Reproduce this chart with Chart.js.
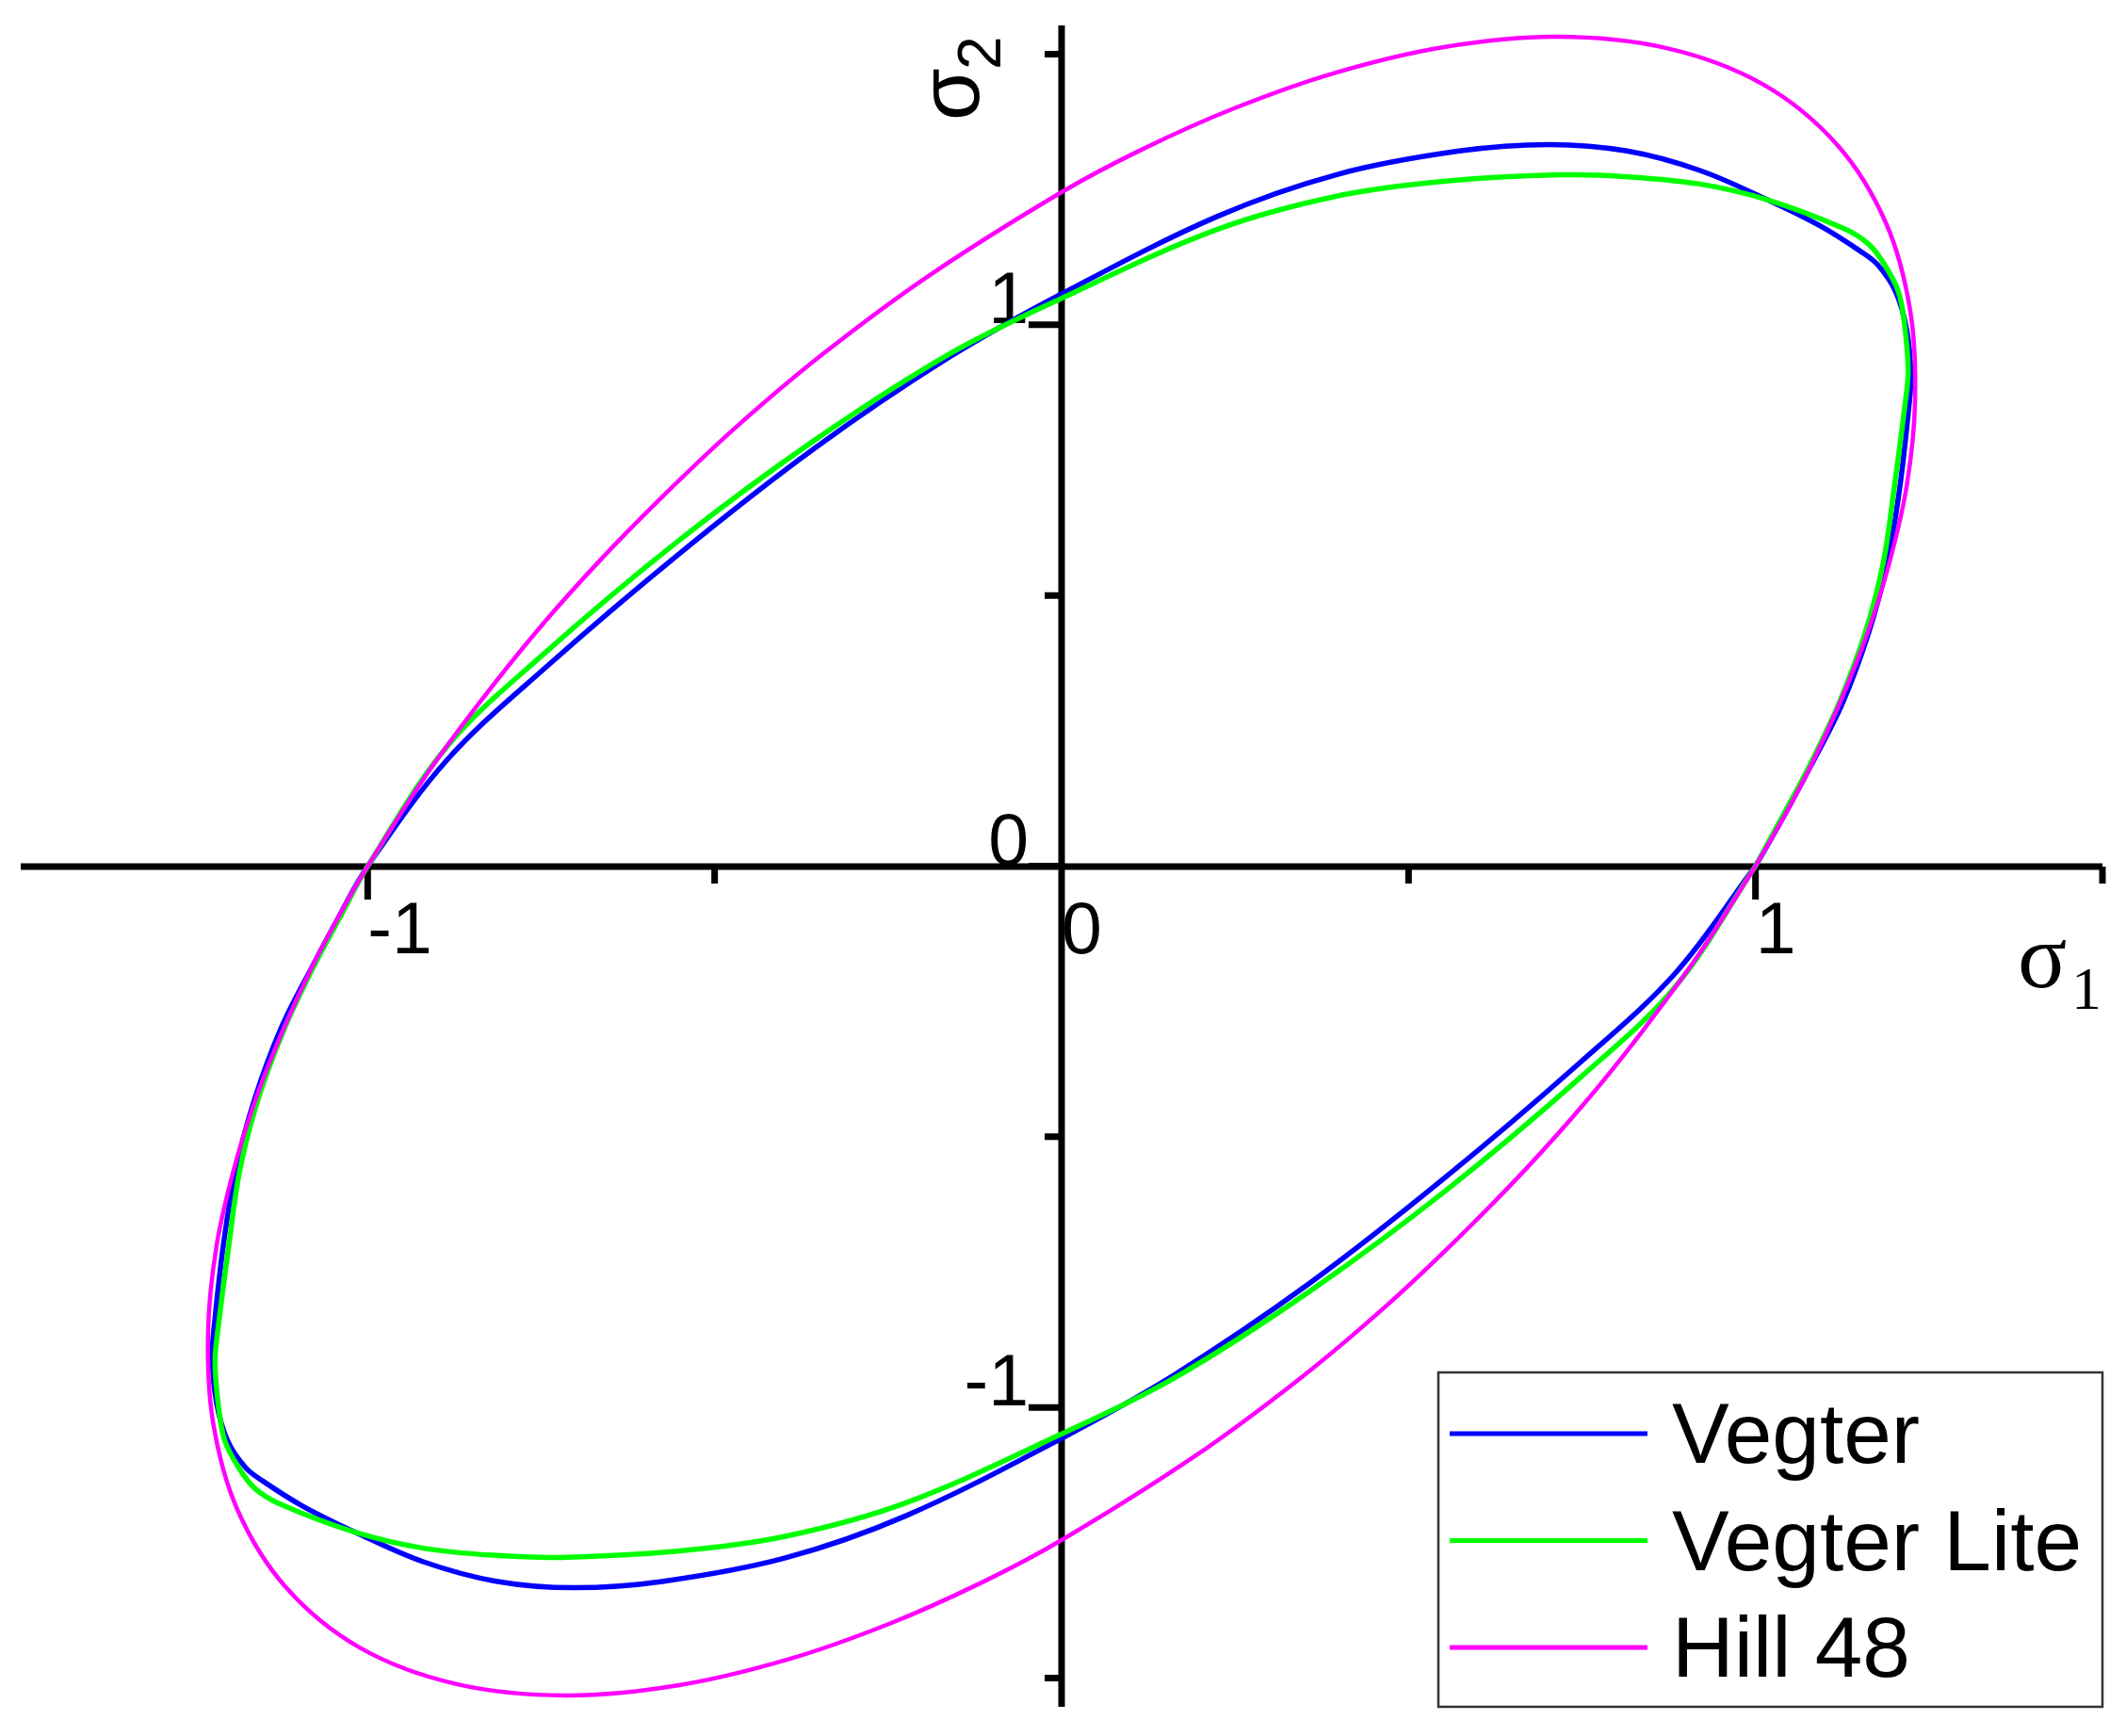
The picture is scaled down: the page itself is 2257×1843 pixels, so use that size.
<!DOCTYPE html>
<html>
<head>
<meta charset="utf-8">
<title>Yield loci</title>
<script src="https://cdn.jsdelivr.net/npm/chart.js@4.4.0/dist/chart.umd.min.js"></script>
<style>
  html, body { margin: 0; padding: 0; background: #fff; }
  #wrap { width: 2257px; height: 1843px; }
</style>
</head>
<body>
<div id="wrap"><canvas id="locus" width="2257" height="1843"></canvas></div>
<script>
// yield loci in the sigma1 / sigma2 plane
const vegter = [
  [1.000, 0.000], [1.040, 0.090], [1.080, 0.186], [1.125, 0.300], [1.163, 0.431],
  [1.190, 0.560], [1.208, 0.700], [1.221, 0.848], [1.224, 0.905], [1.218, 0.990],
  [1.202, 1.061], [1.176, 1.111], [1.151, 1.136], [1.094, 1.182], [1.017, 1.231],
  [0.920, 1.285], [0.815, 1.321], [0.703, 1.333], [0.573, 1.321], [0.398, 1.278],
  [0.224, 1.200], [0.000, 1.057], [-0.162, 0.940], [-0.358, 0.770], [-0.553, 0.575],
  [-0.748, 0.362], [-0.885, 0.197], [-1.000, 0.000],
  [-1.040, -0.090], [-1.080, -0.186], [-1.125, -0.300], [-1.163, -0.431], [-1.190, -0.560],
  [-1.208, -0.700], [-1.221, -0.848], [-1.224, -0.905], [-1.218, -0.990], [-1.202, -1.061],
  [-1.176, -1.111], [-1.151, -1.136], [-1.094, -1.182], [-1.017, -1.231], [-0.920, -1.285],
  [-0.815, -1.321], [-0.703, -1.333], [-0.573, -1.321], [-0.398, -1.278], [-0.224, -1.200],
  [0.000, -1.057], [0.162, -0.940], [0.358, -0.770], [0.553, -0.575], [0.748, -0.362],
  [0.885, -0.197], [1.000, 0.000]
];
const vegterLite = [
  [1.000, 0.000], [1.038, 0.090], [1.078, 0.186], [1.120, 0.300], [1.158, 0.431],
  [1.184, 0.560], [1.200, 0.700], [1.215, 0.848], [1.220, 0.915], [1.215, 0.998],
  [1.206, 1.061], [1.186, 1.111], [1.163, 1.149], [1.127, 1.178], [1.017, 1.231],
  [0.920, 1.260], [0.820, 1.273], [0.721, 1.277], [0.550, 1.265], [0.398, 1.238],
  [0.224, 1.176], [0.000, 1.049], [-0.162, 0.946], [-0.358, 0.785], [-0.553, 0.600],
  [-0.748, 0.390], [-0.885, 0.222], [-1.000, 0.000],
  [-1.038, -0.090], [-1.078, -0.186], [-1.120, -0.300], [-1.158, -0.431], [-1.184, -0.560],
  [-1.200, -0.700], [-1.215, -0.848], [-1.220, -0.915], [-1.215, -0.998], [-1.206, -1.061],
  [-1.186, -1.111], [-1.163, -1.149], [-1.127, -1.178], [-1.017, -1.231], [-0.920, -1.260],
  [-0.820, -1.273], [-0.721, -1.277], [-0.550, -1.265], [-0.398, -1.238], [-0.224, -1.176],
  [0.000, -1.049], [0.162, -0.946], [0.358, -0.785], [0.553, -0.600], [0.748, -0.390],
  [0.885, -0.222], [1.000, 0.000]
];
const hill48 = [
  [1.000, 0.000], [1.041, 0.091], [1.082, 0.191], [1.121, 0.300], [1.159, 0.422],
  [1.192, 0.556], [1.218, 0.703], [1.230, 0.861], [1.223, 1.026], [1.188, 1.188],
  [1.118, 1.332], [1.011, 1.444], [0.872, 1.511], [0.714, 1.532], [0.551, 1.513],
  [0.393, 1.465], [0.247, 1.399], [0.116, 1.324], [0.000, 1.245], [-0.192, 1.090],
  [-0.344, 0.946], [-0.469, 0.811], [-0.574, 0.684], [-0.668, 0.561], [-0.755, 0.436],
  [-0.837, 0.305], [-0.919, 0.162], [-1.000, 0.000],
  [-1.041, -0.091], [-1.082, -0.191], [-1.121, -0.300], [-1.159, -0.422], [-1.192, -0.556],
  [-1.218, -0.703], [-1.230, -0.861], [-1.223, -1.026], [-1.188, -1.188], [-1.118, -1.332],
  [-1.011, -1.444], [-0.872, -1.511], [-0.714, -1.532], [-0.551, -1.513], [-0.393, -1.465],
  [-0.247, -1.399], [-0.116, -1.324], [0.000, -1.245], [0.192, -1.090], [0.344, -0.946],
  [0.469, -0.811], [0.574, -0.684], [0.668, -0.561], [0.755, -0.436], [0.837, -0.305],
  [0.919, -0.162], [1.000, 0.000]
];

const seriesLabels = ['Vegter', 'Vegter Lite', 'Hill 48'];
const seriesColors = ['#0000ff', '#00ff00', '#ff00ff'];

const xMajorTicks = [-1, 0, 1];
const xMinorTicks = [-0.5, 0.5, 1.5];
const yMajorTicks = [-1, 0, 1];
const yMinorTicks = [-1.5, -0.5, 0.5, 1.5];
const xTickLabels = ['-1', '0', '1'];
const yTickLabels = ['-1', '0', '1'];

const toPoints = arr => arr.map(p => ({ x: p[0], y: p[1] }));

// axes crossing at the origin, drawn from the (hidden) chart scales
const crossAxes = {
  id: 'crossAxes',
  beforeDatasetsDraw(chart) {
    const { ctx, chartArea: area } = chart;
    const xs = chart.scales.x, ys = chart.scales.y;
    const x0 = Math.round(xs.getPixelForValue(0));
    const y0 = Math.round(ys.getPixelForValue(0));

    ctx.save();
    ctx.strokeStyle = '#000';
    ctx.lineWidth = 7;
    ctx.beginPath();
    ctx.moveTo(area.left, y0);
    ctx.lineTo(area.right, y0);
    ctx.moveTo(x0, area.top);
    ctx.lineTo(x0, area.bottom);
    xMajorTicks.forEach(v => {
      const px = xs.getPixelForValue(v);
      ctx.moveTo(px, y0); ctx.lineTo(px, y0 + 35);
    });
    xMinorTicks.forEach(v => {
      const px = xs.getPixelForValue(v);
      ctx.moveTo(px, y0); ctx.lineTo(px, y0 + 18);
    });
    yMajorTicks.forEach(v => {
      const py = ys.getPixelForValue(v);
      ctx.moveTo(x0, py); ctx.lineTo(x0 - 35, py);
    });
    yMinorTicks.forEach(v => {
      const py = ys.getPixelForValue(v);
      ctx.moveTo(x0, py); ctx.lineTo(x0 - 18, py);
    });
    ctx.stroke();

    ctx.fillStyle = '#000';
    ctx.font = '77px Arial, "Liberation Sans", sans-serif';
    ctx.textBaseline = 'alphabetic';
    ctx.textAlign = 'left';
    xMajorTicks.forEach((v, i) => {
      ctx.fillText(xTickLabels[i], xs.getPixelForValue(v), y0 + 92);
    });
    ctx.textAlign = 'right';
    yMajorTicks.forEach((v, i) => {
      ctx.fillText(yTickLabels[i], x0 - 35, ys.getPixelForValue(v) - 2);
    });

    // sigma1 under the right end of the horizontal axis
    ctx.textAlign = 'left';
    ctx.font = '97px "Times New Roman", "Liberation Serif", serif';
    ctx.fillText('σ', area.right - 90, y0 + 128);
    ctx.font = '64px "Times New Roman", "Liberation Serif", serif';
    ctx.fillText('1', area.right - 33, y0 + 151);

    // sigma2, rotated, beside the top of the vertical axis
    ctx.translate(x0 - 88, area.top + 101);
    ctx.rotate(-Math.PI / 2);
    ctx.font = '90px Arial, "Liberation Sans", sans-serif';
    ctx.fillText('σ', 0, 0);
    ctx.font = '64px Arial, "Liberation Sans", sans-serif';
    ctx.fillText('2', 54, 23);
    ctx.restore();
  }
};

// framed legend in the lower right corner
const boxLegend = {
  id: 'boxLegend',
  afterDraw(chart) {
    const { ctx, chartArea: area } = chart;
    const w = 705, h = 355;
    const left = area.right - w, top = area.bottom - h;
    ctx.save();
    ctx.fillStyle = '#fff';
    ctx.fillRect(left, top, w, h);
    ctx.strokeStyle = '#333';
    ctx.lineWidth = 2.5;
    ctx.strokeRect(left, top, w, h);
    ctx.font = '91px Arial, "Liberation Sans", sans-serif';
    ctx.textAlign = 'left';
    ctx.textBaseline = 'alphabetic';
    chart.data.datasets.forEach((ds, i) => {
      const ly = top + 65 + i * 113.5;
      ctx.strokeStyle = ds.borderColor;
      ctx.lineWidth = 5;
      ctx.beginPath();
      ctx.moveTo(left + 12, ly);
      ctx.lineTo(left + 222, ly);
      ctx.stroke();
      ctx.fillStyle = '#000';
      ctx.fillText(ds.label, left + 248, top + 96 + i * 113.5);
    });
    ctx.restore();
  }
};

const curves = [vegter, vegterLite, hill48];

new Chart(document.getElementById('locus'), {
  type: 'scatter',
  data: {
    datasets: curves.map((c, i) => ({
      label: seriesLabels[i],
      data: toPoints(c),
      showLine: true,
      borderColor: seriesColors[i],
      backgroundColor: seriesColors[i],
      borderWidth: i === 2 ? 4.5 : 5.5,
      pointRadius: 0,
      tension: 0.35,
      order: 3 - i
    }))
  },
  options: {
    responsive: false,
    devicePixelRatio: 1,
    animation: false,
    layout: { padding: { left: 22, right: 25, top: 27, bottom: 31 } },
    scales: {
      x: { type: 'linear', min: -1.5, max: 1.5, display: false },
      y: { type: 'linear', min: -1.553, max: 1.553, display: false }
    },
    plugins: {
      legend: { display: false },
      tooltip: { enabled: false }
    }
  },
  plugins: [crossAxes, boxLegend]
});
</script>
</body>
</html>
